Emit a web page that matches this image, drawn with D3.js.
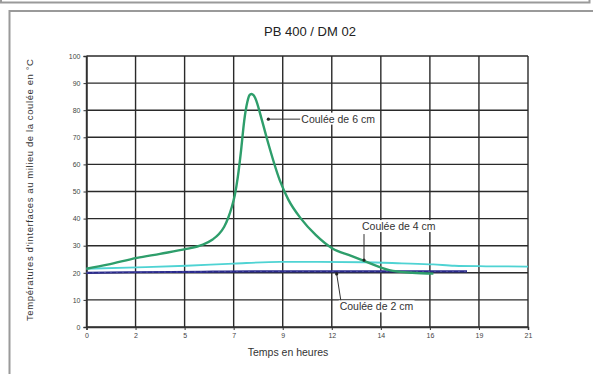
<!DOCTYPE html>
<html>
<head>
<meta charset="utf-8">
<script src="https://cdn.jsdelivr.net/npm/d3@7"></script>
<style>
  body { margin:0; background:#fff; }
  svg { display:block; font-family:"Liberation Sans", Arial, sans-serif; }
</style>
</head>
<body>
<div id="chart"></div>
<script>
(function(){
    var width = 593,
        height = 374;

    // temps en heures / température en °C
    var t6 = [0, 1, 2.4, 3.5, 4.75, 5.5, 6.0, 6.3, 6.55, 6.75, 6.9, 7.05, 7.2, 7.35, 7.5, 7.65, 7.75, 7.84, 7.95, 8.03, 8.33, 8.6, 9.2, 9.6, 10.2, 10.9, 11.7, 12.5, 13.2, 14.4, 15.5, 16.5];
    var v6 = [21.5, 23, 25.5, 27, 28.8, 30.3, 32.3, 34.3, 37, 40.5, 44, 48.5, 55.5, 65, 76, 83, 85.5, 86, 85.5, 84.4, 76.7, 69, 54, 47, 40, 34, 29, 26.5, 24.4, 21, 20, 19.7];

    var t4 = [0, 2.4, 4.75, 7, 9.2, 11, 13.2, 15, 16.5, 17.5, 19, 21];
    var v4 = [21.5, 22, 22.6, 23.4, 24, 24, 23.9, 23.5, 23.1, 22.6, 22.4, 22.3];

    var t2 = [0, 2, 4, 6, 8, 10, 12, 14, 16, 18.1];
    var v2 = [20, 20.2, 20.3, 20.4, 20.5, 20.5, 20.5, 20.5, 20.5, 20.5];

    var xTickLabels = ["0", "2", "5", "7", "9", "12", "14", "16", "19", "21"];
    var yTicks = [0, 10, 20, 30, 40, 50, 60, 70, 80, 90, 100];

    var annoLabels = ["Coulée de 6 cm", "Coulée de 4 cm", "Coulée de 2 cm"];
    var annoT = [8.65, 13.2, 11.9];
    var annoV = [76.7, 24.7, 19.6];

    var svg = d3.select("#chart")
        .append("svg")
        .attr("width", width)
        .attr("height", height);

    // cadres
    svg.append("path")
        .attr("d", "M1,-5 V2.5 H589.5 V-5")
        .attr("fill", "none").attr("stroke", "#9a9a9a").attr("stroke-width", 2);
    svg.append("rect")
        .attr("x", 9.5).attr("y", 11).attr("width", 620).attr("height", 400)
        .attr("fill", "none").attr("stroke", "#9a9a9a").attr("stroke-width", 2);

    var x = d3.scaleLinear().domain([0, 21]).range([86.5, 528]);
    var y = d3.scaleLinear().domain([0, 100]).range([327, 56]);

    var xTicks = xTickLabels.map(function(d, i){ return i * 21 / 9 });

    // grille
    svg.append("g")
        .selectAll("line")
        .data(xTicks)
        .enter().append("line")
        .attr("x1", function(d){ return x(d) }).attr("x2", function(d){ return x(d) })
        .attr("y1", y(0)).attr("y2", y(100))
        .attr("stroke", "#2a2a2a").attr("stroke-width", 1.4);
    svg.append("g")
        .selectAll("line")
        .data(yTicks)
        .enter().append("line")
        .attr("x1", x(0)).attr("x2", x(21))
        .attr("y1", function(d){ return y(d) }).attr("y2", function(d){ return y(d) })
        .attr("stroke", "#2a2a2a").attr("stroke-width", 1.4);

    var xAxis = svg.append("g")
        .attr("transform", "translate(0," + y(0) + ")")
        .call(d3.axisBottom(x).tickValues(xTicks)
            .tickFormat(function(d, i){ return xTickLabels[i] })
            .tickSize(3).tickPadding(3));
    var yAxis = svg.append("g")
        .attr("transform", "translate(" + x(0) + ",0)")
        .call(d3.axisLeft(y).tickValues(yTicks).tickSize(3).tickPadding(3));

    [xAxis, yAxis].forEach(function(g){
        g.select(".domain").attr("stroke", "#333").attr("stroke-width", 1.5);
        g.selectAll(".tick line").attr("stroke", "#333");
        g.selectAll("text").attr("font-size", 7).attr("fill", "#444")
            .attr("font-family", "Liberation Sans, Arial, sans-serif");
    });

    var line = d3.line()
        .x(function(d){ return x(d[0]) })
        .y(function(d){ return y(d[1]) })
        .curve(d3.curveMonotoneX);

    function pairs(t, v){ return t.map(function(d, i){ return [d, v[i]] }) }

    svg.append("path").datum(pairs(t4, v4))
        .attr("d", line).attr("fill", "none")
        .attr("stroke", "#4fd3d3").attr("stroke-width", 1.8);
    svg.append("path").datum(pairs(t2, v2))
        .attr("d", line).attr("fill", "none")
        .attr("stroke", "#2b2b8c").attr("stroke-width", 2.2);
    svg.append("path").datum(pairs(t2, v2))
        .attr("d", line).attr("fill", "none")
        .attr("stroke", "#7a7ac8").attr("stroke-width", 0.8)
        .attr("stroke-dasharray", "1,5");
    svg.append("path").datum(pairs(t6, v6))
        .attr("d", line).attr("fill", "none")
        .attr("stroke", "#2e9e6b").attr("stroke-width", 2.4);

    // étiquettes des courbes
    var offsets = [[32, 0], [0, -26], [5, 32]];
    var anno = svg.append("g");
    annoLabels.forEach(function(lbl, i){
        var ax = x(annoT[i]), ay = y(annoV[i]);
        var tx = ax + offsets[i][0], ty = ay + offsets[i][1];
        anno.append("line")
            .attr("x1", ax).attr("y1", ay).attr("x2", tx).attr("y2", ty)
            .attr("stroke", "#333").attr("stroke-width", 1);
        anno.append("circle").attr("cx", ax).attr("cy", ay).attr("r", 1.6).attr("fill", "#222");
        var txt = anno.append("text")
            .attr("x", i === 0 ? tx + 1 : tx - 2)
            .attr("y", i === 1 ? ty - 4 : (i === 2 ? ty + 4.5 : ty + 3.5))
            .attr("font-size", 10.5).attr("fill", "#333")
            .text(lbl);
        var bb = txt.node().getBBox();
        anno.insert("rect", function(){ return txt.node() })
            .attr("x", bb.x - 1).attr("y", bb.y).attr("width", bb.width + 2).attr("height", bb.height)
            .attr("fill", "#fff");
    });

    svg.append("text")
        .attr("x", 310).attr("y", 36)
        .attr("text-anchor", "middle")
        .attr("font-size", 13).attr("fill", "#222")
        .text("PB 400 / DM 02");

    svg.append("text")
        .attr("x", 288).attr("y", 356)
        .attr("text-anchor", "middle")
        .attr("font-size", 10.5).attr("fill", "#333")
        .text("Temps en heures");

    svg.append("text")
        .attr("transform", "translate(33,190) rotate(-90)")
        .attr("text-anchor", "middle")
        .attr("font-size", 9.5).attr("fill", "#333")
        .attr("textLength", 262).attr("lengthAdjust", "spacing")
        .text("Températures d'interfaces au milieu de la coulée en °C");
})();
</script>
</body>
</html>
